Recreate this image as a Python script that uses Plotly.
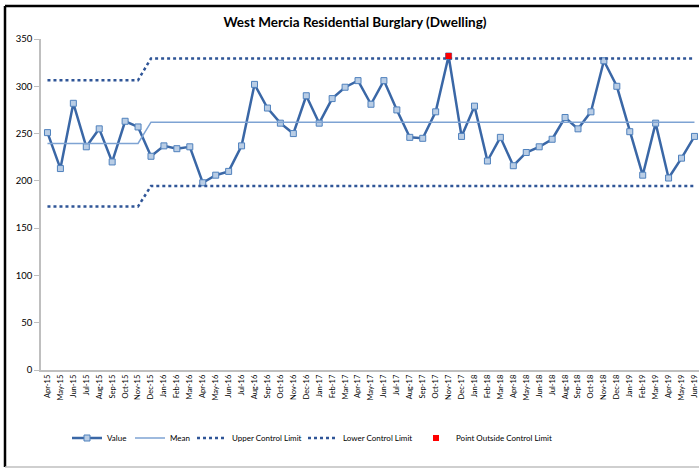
import plotly.graph_objects as go

months = ["Apr-15","May-15","Jun-15","Jul-15","Aug-15","Sep-15","Oct-15","Nov-15","Dec-15",
          "Jan-16","Feb-16","Mar-16","Apr-16","May-16","Jun-16","Jul-16","Aug-16","Sep-16","Oct-16","Nov-16","Dec-16",
          "Jan-17","Feb-17","Mar-17","Apr-17","May-17","Jun-17","Jul-17","Aug-17","Sep-17","Oct-17","Nov-17","Dec-17",
          "Jan-18","Feb-18","Mar-18","Apr-18","May-18","Jun-18","Jul-18","Aug-18","Sep-18","Oct-18","Nov-18","Dec-18",
          "Jan-19","Feb-19","Mar-19","Apr-19","May-19","Jun-19"]

values = [251, 213, 282, 236, 255, 220, 263, 257, 226,
          237, 234, 236, 198, 206, 210, 237, 302, 277, 261, 250, 290,
          261, 287, 299, 306, 281, 306, 275, 246, 245, 273, 332, 247,
          279, 221, 246, 216, 230, 236, 244, 267, 255, 273, 327, 300,
          252, 206, 261, 203, 224, 247]

mean = [239.5]*8 + [262]*43
ucl = [306.5]*8 + [329.5]*43
lcl = [173]*8 + [194.5]*43
outside = [v if v > u or v < l else None for v, u, l in zip(values, ucl, lcl)]

x = list(range(len(months)))
FONT = "Lato"

# plot area: x 41..699, y 39..370
pw, ph = 658.0, 331.0
def px(X): return (X - 41) / pw
def py(Y): return (370 - Y) / ph

fig = go.Figure()
fig.add_trace(go.Scatter(x=x, y=values, name="Value", mode="lines+markers", legend="legend",
                         line=dict(color="#3A67A6", width=2.5),
                         marker=dict(symbol="square", size=6, color="#B9CDE5",
                                     line=dict(color="#4F81BD", width=1))))
fig.add_trace(go.Scatter(x=x, y=mean, name="Mean", mode="lines", legend="legend2",
                         line=dict(color="#7EA3D3", width=1.5)))
fig.add_trace(go.Scatter(x=x, y=ucl, name="Upper Control Limit", mode="lines", legend="legend3",
                         line=dict(color="#2F5597", width=2.5, dash="dot")))
fig.add_trace(go.Scatter(x=x, y=lcl, name="Lower Control Limit", mode="lines", legend="legend4",
                         line=dict(color="#2F5597", width=2.5, dash="dot")))
fig.add_trace(go.Scatter(x=x, y=outside, name="Point Outside Control Limit", mode="markers",
                         legend="legend5",
                         marker=dict(symbol="square", size=6, color="#FF0000")))

shapes = [
    dict(type="line", xref="paper", yref="paper", x0=px(5), x1=px(720), y0=py(6), y1=py(6),
         line=dict(color="#000000", width=2.5)),
    dict(type="line", xref="paper", yref="paper", x0=px(5), x1=px(5), y0=py(6), y1=py(467),
         line=dict(color="#000000", width=2.5)),
    dict(type="line", xref="paper", yref="paper", x0=px(5), x1=px(720), y0=py(467), y1=py(467),
         line=dict(color="#BFBFBF", width=1.5)),
]

def leg(textx):
    return dict(orientation="h", x=px(textx - 40), xanchor="left", y=py(438), yanchor="middle",
                font=dict(family=FONT, size=8, color="#000000"), itemwidth=30,
                bgcolor="rgba(0,0,0,0)")

fig.update_layout(
    width=699, height=469,
    margin=dict(l=41, r=0, t=39, b=99),
    paper_bgcolor="white", plot_bgcolor="white",
    font=dict(family=FONT, color="#404040", size=10),
    title=dict(text="<b>West Mercia Residential Burglary (Dwelling)</b>", x=px(355), xanchor="center",
               xref="paper", y=1 - 22/469, yanchor="middle",
               font=dict(family=FONT, size=13.5, color="#000000")),
    showlegend=True,
    legend=leg(107), legend2=leg(170), legend3=leg(232), legend4=leg(343), legend5=leg(456),
    shapes=shapes,
)
fig.update_xaxes(range=[-0.5, 50.35], tickmode="array", tickvals=x, ticktext=months,
                 tickangle=-90, showgrid=False, zeroline=False, showline=True,
                 linecolor="#BFBFBF", linewidth=1.5, ticks="",
                 tickfont=dict(family=FONT, size=7.5, color="#000000"))
fig.update_yaxes(range=[0, 350], dtick=50, showgrid=False, zeroline=False, showline=True,
                 linecolor="#BFBFBF", linewidth=1.5, ticks="outside", ticklen=5,
                 tickcolor="#BFBFBF", tickfont=dict(family=FONT, size=9.5, color="#000000"))

fig.write_html("out.html", config={"displayModeBar": False},
               post_script="document.body.style.margin='0';document.body.style.padding='0';")
